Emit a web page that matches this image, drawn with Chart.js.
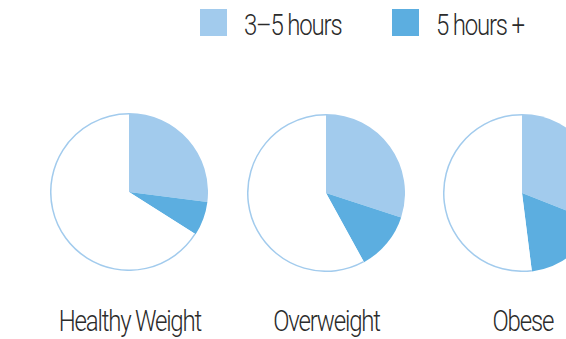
<!DOCTYPE html>
<html>
<head>
<meta charset="utf-8">
<script src="https://cdn.jsdelivr.net/npm/chart.js@4"></script>
<style>
  html, body { margin: 0; padding: 0; background: #fff; overflow: hidden; }
  body { width: 566px; height: 339px; position: relative;
         font-family: Roboto, sans-serif; font-weight: 300; color: #2b2b2b; }
  .pie { position: absolute; width: 158px; height: 158px; }
  .swatch { position: absolute; top: 9px; width: 27px; height: 27px; }
  .legtext { position: absolute; top: 7px; height: 36px; white-space: nowrap; }
  .cat { position: absolute; top: 303px; width: 220px; margin-left: -110px; text-align: center; white-space: nowrap; }
  .sq { display: inline-block; font-size: 30px; line-height: 36px; letter-spacing: -1.5px;
        transform: scaleX(0.8); }
  .legtext .sq { transform-origin: 0 50%; }
  .cat .sq { transform-origin: 50% 50%; }
</style>
</head>
<body>
<div class="swatch" id="sw0" style="left:200px"></div>
<div class="legtext" style="left:244px"><span class="sq" id="lt0"></span></div>
<div class="swatch" id="sw1" style="left:392px"></div>
<div class="legtext" style="left:436px"><span class="sq" id="lt1"></span></div>

<div class="pie" style="left:50px;top:113px"><canvas id="pie0" width="158" height="158"></canvas></div>
<div class="pie" style="left:247px;top:114px"><canvas id="pie1" width="158" height="158"></canvas></div>
<div class="pie" style="left:443px;top:114px"><canvas id="pie2" width="158" height="158"></canvas></div>

<div class="cat" style="left:130px"><span class="sq" id="cat0"></span></div>
<div class="cat" style="left:327px"><span class="sq" id="cat1"></span></div>
<div class="cat" style="left:523px"><span class="sq" id="cat2"></span></div>

<script>
// values (percent of each group)
const categories = ['Healthy Weight', 'Overweight', 'Obese'];
const seriesLabels = ['3–5 hours', '5 hours +'];
const threeToFive = [27, 30, 31];
const fivePlus = [7, 12, 17];

const lightBlue = '#a2cbed';
const darkBlue = '#5caee0';

/*legend + category labels as plain text*/
document.getElementById('sw0').style.background = lightBlue;
document.getElementById('sw1').style.background = darkBlue;
document.getElementById('lt0').textContent = seriesLabels[0];
document.getElementById('lt1').textContent = seriesLabels[1];
categories.forEach((c, i) => { document.getElementById('cat' + i).textContent = c; });

/*outline only round the empty (white) part of the pie*/
const restOutline = {
    id: 'restOutline',
    afterDatasetsDraw(chart) {
        const arc = chart.getDatasetMeta(0).data[2];
        const ctx = chart.ctx;
        ctx.save();
        ctx.strokeStyle = lightBlue;
        ctx.lineWidth = 1.5;
        ctx.beginPath();
        ctx.arc(arc.x, arc.y, arc.outerRadius - 0.75, arc.startAngle, arc.endAngle);
        ctx.stroke();
        ctx.restore();
    }
};

categories.forEach((c, i) => {
    new Chart(document.getElementById('pie' + i), {
        type: 'pie',
        data: {
            labels: [seriesLabels[0], seriesLabels[1], 'rest'],
            datasets: [{
                data: [threeToFive[i], fivePlus[i], 100 - threeToFive[i] - fivePlus[i]],
                backgroundColor: [lightBlue, darkBlue, '#ffffff'],
                borderWidth: 0
            }]
        },
        options: {
            responsive: false,
            animation: false,
            layout: { padding: 0 },
            plugins: {
                legend: { display: false },
                tooltip: { enabled: false }
            }
        },
        plugins: [restOutline]
    });
});
</script>
</body>
</html>
